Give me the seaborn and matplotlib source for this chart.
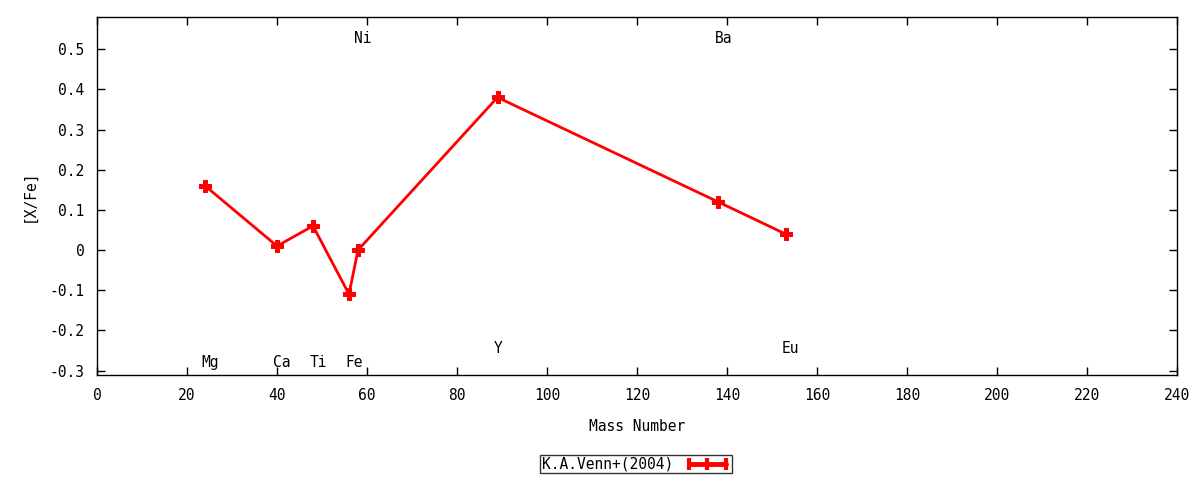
import matplotlib
matplotlib.use('Agg')
import matplotlib.pyplot as plt
import pandas as pd
import seaborn as sns
from matplotlib.lines import Line2D
from matplotlib.legend_handler import HandlerLine2D

# Abundance pattern
elements = ['Mg', 'Ca', 'Ti', 'Fe', 'Ni', 'Y', 'Ba', 'Eu']
mass_number = [24, 40, 48, 56, 58, 89, 138, 153]
x_fe = [0.16, 0.01, 0.06, -0.11, 0.0, 0.38, 0.12, 0.04]
label_y = [-0.28, -0.28, -0.28, -0.28, 0.527, -0.246, 0.527, -0.246]
series_name = 'K.A.Venn+(2004)'

df = pd.DataFrame({'mass': mass_number, 'xfe': x_fe})

sns.set_style('ticks')
plt.rcParams['font.family'] = ['DejaVu Sans Mono']
plt.rcParams['font.size'] = 10
plt.rcParams['text.color'] = 'black'
plt.rcParams['axes.labelcolor'] = 'black'
plt.rcParams['xtick.color'] = 'black'
plt.rcParams['ytick.color'] = 'black'
plt.rcParams['axes.edgecolor'] = 'black'

fig = plt.figure(figsize=(12, 4.8), dpi=100)
ax = fig.add_axes([97 / 1200, 105 / 480, 1080 / 1200, 358 / 480])

sns.lineplot(data=df, x='mass', y='xfe', ax=ax, color='red', lw=2,
             marker='P', markersize=9, markeredgecolor='red', sort=False)

for el, m, ly in zip(elements, mass_number, label_y):
    ax.text(m - 0.8, ly, el, ha='left', va='center', fontsize=10.5)

ax.set_xlim(0, 240)
ax.set_ylim(-0.311, 0.58)
ax.set_xticks(range(0, 241, 20))
ax.set_yticks([-0.3, -0.2, -0.1, 0, 0.1, 0.2, 0.3, 0.4, 0.5])
ax.set_yticklabels(['-0.3', '-0.2', '-0.1', '0', '0.1', '0.2', '0.3', '0.4', '0.5'])
ax.tick_params(direction='in', length=6, width=1, top=True, right=True,
               labelsize=10.5, pad=9)
for s in ax.spines.values():
    s.set_linewidth(1)
    s.set_visible(True)

ax.set_xlabel('Mass Number', fontsize=10.5, labelpad=12)
ax.set_ylabel('[X/Fe]', fontsize=10.5, labelpad=9)

handle = Line2D([], [], color='red', lw=3.5, marker='|', markersize=9, mew=3)
leg = fig.legend([handle], [series_name], loc='center', bbox_to_anchor=(0.53, 0.033),
                 markerfirst=False, handler_map={handle: HandlerLine2D(numpoints=3)},
                 frameon=True, fancybox=False, edgecolor='black', fontsize=10.5,
                 handlelength=3.1, borderpad=0.12, handletextpad=0.8)
leg.get_frame().set_linewidth(1)

fig.savefig('out.png', dpi=100)
